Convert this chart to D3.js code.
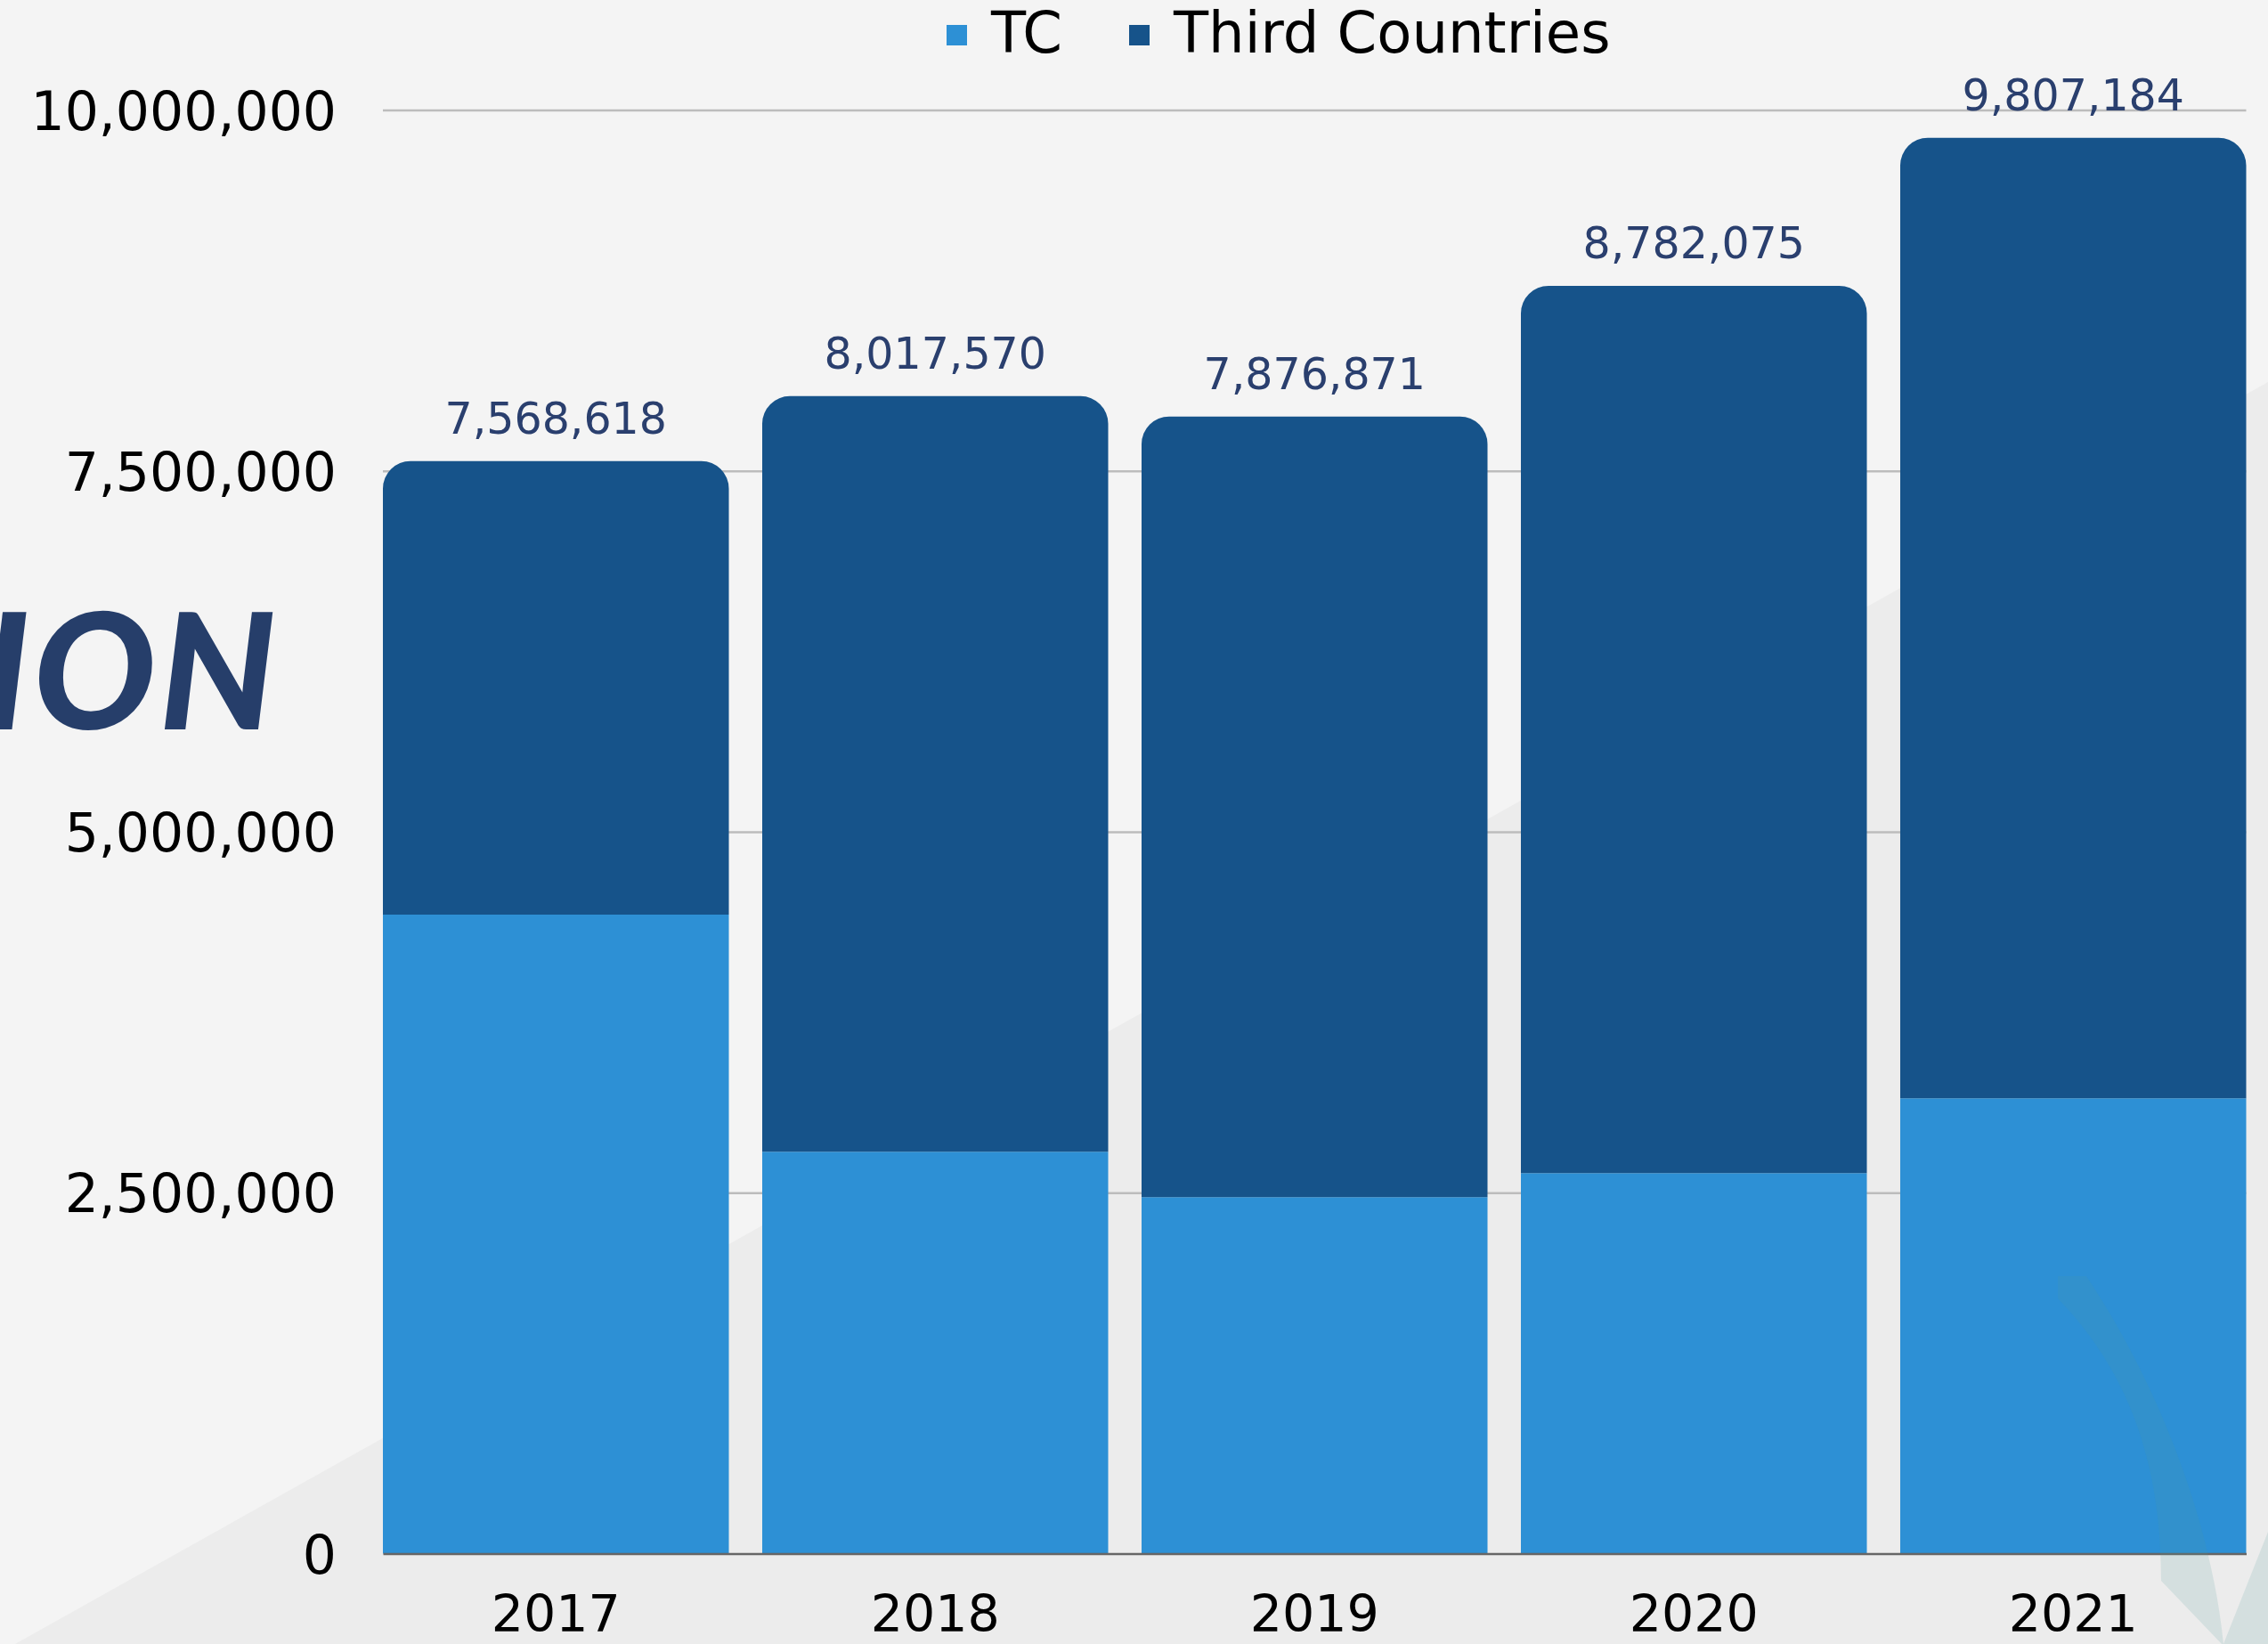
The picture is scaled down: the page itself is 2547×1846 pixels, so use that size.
<!DOCTYPE html>
<html>
<head>
<meta charset="utf-8">
<script src="https://cdn.jsdelivr.net/npm/d3@7"></script>
<style>
  html, body { margin: 0; padding: 0; background: #f4f4f4; }
  svg { display: block; }
  text { font-family: "DejaVu Sans", sans-serif; }
</style>
</head>
<body>
<div id="chart"></div>
<script>
// data
const years = ['2017', '2018', '2019', '2020', '2021'];
const tcValues = [4426000, 2784000, 2469000, 2636000, 3154000];
const thirdCountryValues = [3142618, 5233570, 5407871, 6146075, 6653184];
const seriesKeys = ['TC', 'Third Countries'];
const seriesColors = ['#2d90d5', '#16538a'];
const yTickValues = [0, 2500000, 5000000, 7500000, 10000000];

class StackedBarChart {
    constructor(_config, _data) {
        this.config = {
            parentElement: _config.parentElement,
            containerWidth: _config.containerWidth || 2547,
            containerHeight: _config.containerHeight || 1846,
            margin: _config.margin || {top: 123.5, right: 24.5, bottom: 101.5, left: 430}
        };
        this.data = _data;
        this.initVis();
    }

    initVis() {
        let vis = this;
        vis.width = vis.config.containerWidth - vis.config.margin.left - vis.config.margin.right;
        vis.height = vis.config.containerHeight - vis.config.margin.top - vis.config.margin.bottom;

        vis.svg = d3.select(vis.config.parentElement)
            .append('svg')
            .attr('width', vis.config.containerWidth)
            .attr('height', vis.config.containerHeight);

        // background: light page with a slightly darker diagonal wedge
        vis.svg.append('rect')
            .attr('width', vis.config.containerWidth)
            .attr('height', vis.config.containerHeight)
            .attr('fill', '#f4f4f4');
        vis.svg.append('path')
            .attr('d', 'M17,1846 L2547,429 L2547,1846 Z')
            .attr('fill', '#ececec');

        // cropped heading word at the left edge
        vis.svg.append('text')
            .attr('x', 314)
            .attr('y', 819)
            .attr('text-anchor', 'end')
            .style('font-family', 'Lato, sans-serif')
            .style('font-weight', 900)
            .style('font-style', 'italic')
            .style('font-size', '182px')
            .style('letter-spacing', '4px')
            .attr('fill', '#263e6a')
            .text('ATION');

        vis.chart = vis.svg.append('g')
            .attr('transform', `translate(${vis.config.margin.left},${vis.config.margin.top})`);

        vis.xScale = d3.scaleBand()
            .domain(years)
            .range([0, vis.width])
            .paddingInner(0.088)
            .paddingOuter(0);

        vis.yScale = d3.scaleLinear()
            .domain([0, 10000000])
            .range([vis.height, 0]);

        vis.colorScale = d3.scaleOrdinal()
            .domain(seriesKeys)
            .range(seriesColors);

        vis.yAxis = d3.axisLeft(vis.yScale)
            .tickValues(yTickValues)
            .tickFormat(d3.format(','))
            .tickSize(-vis.width)
            .tickPadding(52);

        vis.xAxis = d3.axisBottom(vis.xScale)
            .tickSize(0)
            .tickPadding(0);

        vis.yAxisG = vis.chart.append('g').attr('class', 'axis y-axis');
        vis.barsG = vis.chart.append('g').attr('class', 'bars');
        vis.xAxisG = vis.chart.append('g')
            .attr('class', 'axis x-axis')
            .attr('transform', `translate(0,${vis.height})`);
        vis.labelsG = vis.chart.append('g').attr('class', 'labels');
        vis.legendG = vis.svg.append('g').attr('class', 'legend');

        vis.updateVis();
    }

    updateVis() {
        let vis = this;
        vis.stack = d3.stack().keys(seriesKeys)(vis.data);
        vis.renderVis();
    }

    renderVis() {
        let vis = this;
        const r = 31;
        const bw = vis.xScale.bandwidth();

        // gridlines + y tick labels
        vis.yAxisG.call(vis.yAxis)
            .call(g => g.select('.domain').remove())
            .call(g => g.selectAll('.tick line')
                .attr('stroke', '#bcbcbc')
                .attr('stroke-width', 2.5)
                .attr('display', d => d === 0 ? 'none' : null))
            .call(g => g.selectAll('.tick text')
                .attr('fill', '#000')
                .attr('dy', '0.36em')
                .style('font-size', '60px'));

        // stacked bars, the top segment gets rounded corners
        const topKey = seriesKeys[seriesKeys.length - 1];
        vis.barsG.selectAll('.layer')
            .data(vis.stack)
            .join('g')
            .attr('class', 'layer')
            .attr('fill', d => vis.colorScale(d.key))
            .selectAll('path')
            .data(d => d.map(s => Object.assign(s, {key: d.key})))
            .join('path')
            .attr('d', d => {
                const x0 = vis.xScale(d.data.year);
                const y0 = vis.yScale(d[1]);
                const y1 = vis.yScale(d[0]);
                if (d.key !== topKey) {
                    return `M${x0},${y1}V${y0}H${x0 + bw}V${y1}Z`;
                }
                return `M${x0},${y1}V${y0 + r}A${r},${r} 0 0 1 ${x0 + r},${y0}` +
                    `H${x0 + bw - r}A${r},${r} 0 0 1 ${x0 + bw},${y0 + r}V${y1}Z`;
            });

        // decorative leaf in the bottom right corner (drawn over the bars)
        vis.svg.append('path')
            .attr('d', 'M2311,1433 L2343,1433 C2405,1525 2480,1680 2497,1846 L2547,1720 L2547,1846 L2495,1846 L2427,1775 C2427,1650 2395,1545 2311,1458 Z')
            .attr('fill', '#4f9a9c')
            .attr('opacity', 0.15);

        // x axis
        vis.xAxisG.call(vis.xAxis)
            .call(g => g.select('.domain')
                .attr('stroke', '#666')
                .attr('stroke-width', 2.5))
            .call(g => g.selectAll('.tick text')
                .attr('fill', '#000')
                .attr('dy', 0)
                .attr('y', 87)
                .style('font-size', '57px'));

        // total labels above each bar
        vis.labelsG.selectAll('.total')
            .data(vis.data)
            .join('text')
            .attr('class', 'total')
            .attr('x', d => vis.xScale(d.year) + bw / 2)
            .attr('y', d => vis.yScale(d['TC'] + d['Third Countries']) - 31)
            .attr('text-anchor', 'middle')
            .attr('fill', '#2a3f6e')
            .style('font-size', '49px')
            .text(d => d3.format(',')(d['TC'] + d['Third Countries']));

        // legend
        const legendX = [1063, 1268];
        const items = vis.legendG.selectAll('.item')
            .data(seriesKeys)
            .join('g')
            .attr('class', 'item')
            .attr('transform', (d, i) => `translate(${legendX[i]},0)`);
        items.append('rect')
            .attr('y', 28)
            .attr('width', 23)
            .attr('height', 23)
            .attr('fill', d => vis.colorScale(d));
        items.append('text')
            .attr('x', 50)
            .attr('y', 59)
            .attr('fill', '#000')
            .style('font-size', '64px')
            .text(d => d);
    }
}

const data = years.map((year, i) => ({
    year: year,
    'TC': tcValues[i],
    'Third Countries': thirdCountryValues[i]
}));

new StackedBarChart({parentElement: '#chart'}, data);
</script>
</body>
</html>
